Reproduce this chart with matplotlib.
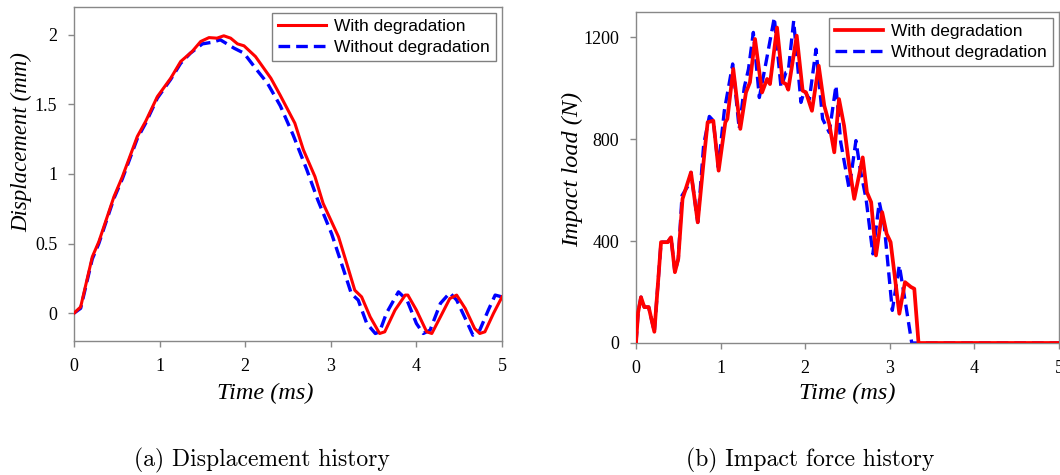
import matplotlib
matplotlib.use("Agg")
import matplotlib.pyplot as plt

# displacement history (a)
t_disp_with = [0, 0.078, 0.214, 0.29, 0.467, 0.565, 0.74, 0.837, 0.974, 1.13, 1.246, 1.38, 1.48,
               1.577, 1.67, 1.75, 1.83, 1.91, 1.986, 2.12, 2.30, 2.407, 2.58, 2.68, 2.815, 2.91,
               3.09, 3.186, 3.28, 3.36, 3.46, 3.57, 3.63, 3.75, 3.87, 3.90, 4.0, 4.12, 4.18, 4.28,
               4.39, 4.47, 4.57, 4.68, 4.74, 4.80, 4.90, 5.0]
d_with = [0, 0.045, 0.405, 0.513, 0.837, 0.98, 1.27, 1.378, 1.556, 1.688, 1.808, 1.88, 1.952,
          1.98, 1.976, 1.993, 1.976, 1.935, 1.921, 1.844, 1.688, 1.568, 1.365, 1.173, 0.981, 0.789,
          0.549, 0.357, 0.165, 0.117, -0.027, -0.146, -0.134, 0.022, 0.13, 0.13, 0.022, -0.134,
          -0.146, -0.027, 0.105, 0.13, 0.034, -0.11, -0.146, -0.134, -0.002, 0.117]

t_disp_without = [0, 0.078, 0.214, 0.29, 0.467, 0.565, 0.74, 0.837, 0.974, 1.13, 1.246, 1.36,
                  1.5, 1.6, 1.71, 1.87, 1.986, 2.12, 2.26, 2.41, 2.56, 2.72, 2.85, 3.01, 3.15,
                  3.24, 3.32, 3.42, 3.52, 3.57, 3.65, 3.79, 3.89, 4.0, 4.08, 4.16, 4.28, 4.39,
                  4.47, 4.58, 4.66, 4.74, 4.84, 4.92, 5.0]
d_without = [0, 0.035, 0.39, 0.50, 0.825, 0.965, 1.255, 1.365, 1.545, 1.68, 1.795, 1.868,
             1.935, 1.945, 1.964, 1.904, 1.868, 1.76, 1.652, 1.49, 1.28, 1.03, 0.81, 0.57, 0.31,
             0.14, 0.094, -0.074, -0.146, -0.134, 0.0, 0.153, 0.094, -0.074, -0.146, -0.122,
             0.07, 0.146, 0.094, -0.05, -0.158, -0.122, 0.022, 0.13, 0.117]

# impact force history (b)
t_force_with = [0, 0.025, 0.059, 0.098, 0.15, 0.217, 0.296, 0.374, 0.414, 0.46, 0.5, 0.55, 0.65,
                0.73, 0.81, 0.847, 0.914, 0.977, 1.056, 1.08, 1.15, 1.233, 1.30, 1.347, 1.407,
                1.49, 1.55, 1.584, 1.667, 1.734, 1.773, 1.80, 1.90, 1.97, 2.01, 2.08, 2.16,
                2.226, 2.285, 2.344, 2.40, 2.46, 2.52, 2.58, 2.68, 2.73, 2.78, 2.837, 2.91,
                2.963, 3.01, 3.113, 3.18, 3.25, 3.29, 3.34, 5.0]
f_with = [0, 120, 180, 141, 141, 44, 396, 396, 415, 278, 331, 566, 670,
          474, 749, 867, 873, 677, 867, 880, 1076, 841, 984, 1024, 1194,
          984, 1037, 1017, 1239, 1024, 1017, 995, 1207, 991, 984, 912, 1089,
          932, 860, 749, 958, 853, 697, 566, 729, 592, 553, 344, 514,
          429, 396, 115, 239, 220, 213, 0, 0]

t_force_without = [0, 0.025, 0.059, 0.098, 0.15, 0.217, 0.296, 0.374, 0.414, 0.46, 0.5, 0.544,
                   0.63, 0.65, 0.73, 0.80, 0.867, 0.914, 0.973, 1.044, 1.143, 1.22, 1.28, 1.33,
                   1.387, 1.458, 1.537, 1.635, 1.714, 1.773, 1.80, 1.864, 1.95, 1.99, 2.05,
                   2.128, 2.206, 2.285, 2.364, 2.42, 2.52, 2.60, 2.65, 2.72, 2.80, 2.876, 2.935,
                   3.03, 3.113, 3.19, 3.26, 5.0]
f_without = [0, 120, 180, 141, 141, 44, 396, 396, 415, 278, 331, 579,
             625, 670, 474, 779, 890, 873, 690, 912, 1096, 841, 1004, 1076,
             1220, 964, 1102, 1278, 1004, 1063, 1067, 1265, 945, 991, 958,
             1154, 880, 827, 1011, 789, 605, 795, 684, 566, 350, 553, 461,
             128, 305, 148, 0, 0]

legend_labels = ["With degradation", "Without degradation"]
captions = ["(a) Displacement history", "(b) Impact force history"]

plt.rcParams['font.family'] = ['Liberation Serif', 'DejaVu Serif']

fig = plt.figure(figsize=(10.6, 4.75), dpi=100)
ax1 = fig.add_axes([0.0698, 0.2821, 0.4038, 0.7032])
ax2 = fig.add_axes([0.600, 0.2779, 0.399, 0.6968])

red = '#ff0000'
blue = '#0000ff'

ax1.plot(t_disp_with, d_with, color=red, lw=2.2, zorder=3, label=legend_labels[0])
ax1.plot(t_disp_without, d_without, color=blue, lw=2.4, ls=(0, (3.5, 1.8)), zorder=2,
         label=legend_labels[1])
ax1.set_xlim(0, 5)
ax1.set_ylim(-0.2, 2.2)
ax1.set_yticks([0, 0.5, 1, 1.5, 2])
ax1.set_yticklabels(['0', '0.5', '1', '1.5', '2'])
ax1.set_ylabel('Displacement (mm)', style='italic', fontsize=16.5)
ax1.yaxis.set_label_coords(-0.098, 0.596)
ax1.set_xlabel('Time (ms)', style='italic', fontsize=17.5, va='top')
ax1.xaxis.set_label_coords(0.446, -0.124)

ax2.plot(t_force_with, f_with, color=red, lw=2.7, zorder=3, label=legend_labels[0])
ax2.plot(t_force_without, f_without, color=blue, lw=2.4, ls=(0, (3.5, 1.8)), zorder=2,
         label=legend_labels[1])
ax2.set_xlim(0, 5)
ax2.set_ylim(0, 1300)
ax2.set_yticks([0, 400, 800, 1200])
ax2.set_ylabel('Impact load (N)', style='italic', fontsize=17.5)
ax2.yaxis.set_label_coords(-0.124, 0.525)
ax2.set_xlabel('Time (ms)', style='italic', fontsize=17.5, va='top')
ax2.xaxis.set_label_coords(0.5, -0.12)

for ax in (ax1, ax2):
    ax.set_xticks([0, 1, 2, 3, 4, 5])
    for s in ax.spines.values():
        s.set_color('#888888')
        s.set_linewidth(1.0)
    ax.tick_params(direction='out', length=4, width=1, color='#888888',
                   labelsize=13, pad=8)
    ax.legend(loc='upper right', prop={'family': 'Liberation Sans', 'size': 12.5},
              fancybox=False, edgecolor='#808080', framealpha=1, handlelength=2.8,
              handletextpad=0.45, borderpad=0.35, labelspacing=0.3, borderaxespad=0.35)

fig.text(0.247, 0.03, captions[0], family='cmr10', fontsize=17, ha='center', va='center')
fig.text(0.764, 0.03, captions[1], family='cmr10', fontsize=17, ha='center', va='center')

fig.savefig('out.png', dpi=100)
